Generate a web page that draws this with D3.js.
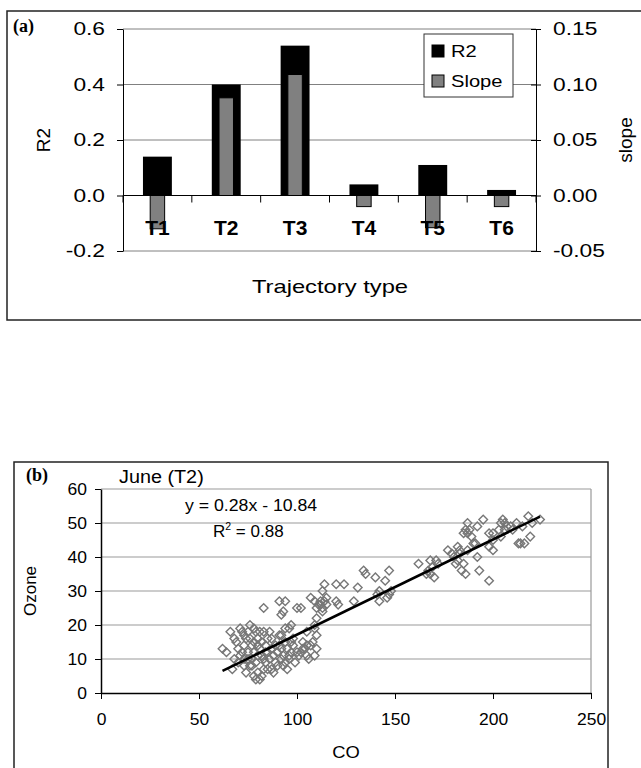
<!DOCTYPE html>
<html>
<head>
<meta charset="utf-8">
<script src="https://cdn.jsdelivr.net/npm/d3@7"></script>
<style>
  body { margin: 0; background: #fff; }
  svg { display: block; font-family: "Liberation Sans", Arial, sans-serif; }
</style>
</head>
<body>
<div id="chart"></div>
<script>
// panel (a) data
var categories = ["T1", "T2", "T3", "T4", "T5", "T6"];
var r2Values = [0.14, 0.40, 0.54, 0.04, 0.11, 0.02];
var slopeValues = [-0.030, 0.088, 0.109, -0.010, -0.029, -0.010];
var r2Ticks = [-0.2, 0, 0.2, 0.4, 0.6];
var slopeTicks = [-0.05, 0, 0.05, 0.10, 0.15];

// panel (b) data: CO vs Ozone, June (T2)
var coValues = [187,188,195,192,186,185,189,191,198,200,204,205,207,209,206,203,200,198,200,198,193,212,215,218,220,224,219,214,213,216,204,177,180,182,185,181,184,186,183,182,183,187,190,179,192,187,206,210,
  162,168,169,167,168,170,172,166,171,
  134,135,140,145,147,142,141,142,147,148,146,131,129,
  114,120,124,120,121,113,115,107,109,111,112,113,114,110,113,110,109,110,109,110,109,106,105,103,105,104,102,100,94,91,92,93,83,97,96,94,92,97,102,107,108,105,112,115,
  62,64,66,67,69,70,71,72,73,73,75,75,76,77,78,79,80,81,82,76,78,79,80,81,82,83,84,85,86,87,88,89,90,91,92,93,95,96,97,98,100,101,86,87,82,78,73,71,77,84,85,73,70,68,80,83,88,81,76,68,91,94,93,95,98,103,74,75,79,77,85,89,90,94,72,74,83,87,96,99,80,84,78,92];
var ozoneValues = [50,48,51,49,48,47,46,44,47,47,50,51,49,49,48,48,45,43,42,33,36,50,49,52,50,51,46,44,44,44,46,42,40,39,38,38,36,35,41,43,42,42,44,41,40,47,50,48,
  38,39,37,36,35,34,38,35,39,
  36,35,34,33,36,30,29,27,29,30,28,31,27,
  32,32,32,27,26,30,28,28,27,26,27,25,27,25,24,22,20,17,19,13,11,10,11,13,14,13,25,25,27,27,23,24,25,20,19,19,17,15,12,14,15,18,26,26,
  13,12,18,7,15,13,19,18,17,14,12,10,8,8,5,4,6,4,5,20,19,18,16,18,15,18,14,12,10,7,6,9,12,14,10,8,7,10,12,14,12,11,18,16,11,12,10,11,14,9,7,8,9,10,11,10,11,13,16,16,17,15,11,13,16,15,16,18,9,10,16,14,8,9,12,6,7,13,11,9,14,12,15,13];
var xTicksB = [0, 50, 100, 150, 200, 250];
var yTicksB = [0, 10, 20, 30, 40, 50, 60];
var trendSlope = 0.28;
var trendIntercept = -10.84;

var svg = d3.select('#chart').append('svg')
    .attr('width', 641)
    .attr('height', 768)

// the source figure is stretched sideways, so its text is too
function stretch(sel, k) {
    sel.each(function() {
        var w = this.getComputedTextLength()
        d3.select(this).attr('textLength', w * k).attr('lengthAdjust', 'spacingAndGlyphs')
    })
}

//////// panel (a)
var gA = svg.append('g')

gA.append('rect')
    .attr('x', 7).attr('y', 11)
    .attr('width', 650).attr('height', 309)
    .attr('fill', 'none').attr('stroke', '#222').attr('stroke-width', 1.5)

var xA = d3.scaleBand().domain(categories).range([123, 536])
var yR2 = d3.scaleLinear().domain([-0.2, 0.6]).range([251, 29])
var ySlope = d3.scaleLinear().domain([-0.05, 0.15]).range([251, 29])

gA.selectAll('.gridA')
    .data(r2Ticks.filter(function(d) { return d !== 0 }))
    .enter().append('line')
    .attr('x1', 123).attr('x2', 536)
    .attr('y1', function(d) { return yR2(d) })
    .attr('y2', function(d) { return yR2(d) })
    .attr('stroke', '#808080').attr('stroke-width', 1)

var bw = xA.bandwidth()

gA.selectAll('.r2bar')
    .data(r2Values)
    .enter().append('rect')
    .attr('x', function(d, i) { return xA(categories[i]) + bw / 2 - bw * 0.21 })
    .attr('width', bw * 0.42)
    .attr('y', function(d) { return yR2(Math.max(0, d)) })
    .attr('height', function(d) { return Math.abs(yR2(d) - yR2(0)) })
    .attr('fill', '#000')

gA.selectAll('.slopebar')
    .data(slopeValues)
    .enter().append('rect')
    .attr('x', function(d, i) { return xA(categories[i]) + bw / 2 - bw * 0.105 })
    .attr('width', bw * 0.21)
    .attr('y', function(d) { return ySlope(Math.max(0, d)) })
    .attr('height', function(d) { return Math.abs(ySlope(d) - ySlope(0)) })
    .attr('fill', '#808080').attr('stroke', '#000').attr('stroke-width', 1)

var leftAxis = gA.append('g')
    .attr('transform', 'translate(123,0)')
    .call(d3.axisLeft(yR2).tickValues(r2Ticks).tickSizeInner(6).tickSizeOuter(0).tickPadding(12)
        .tickFormat(function(d) { return d.toFixed(1) }))
leftAxis.selectAll('text').attr('font-size', 17.5).attr('fill', '#000')
leftAxis.selectAll('text').call(stretch, 1.3)

var rightAxis = gA.append('g')
    .attr('transform', 'translate(536,0)')
    .call(d3.axisRight(ySlope).tickValues(slopeTicks).tickSizeInner(5).tickSizeOuter(0).tickPadding(12)
        .tickFormat(function(d) { return d.toFixed(2) }))
rightAxis.selectAll('.tick line').attr('x1', -5)
rightAxis.selectAll('text').attr('font-size', 17.5).attr('fill', '#000')
rightAxis.selectAll('text').call(stretch, 1.3)
gA.selectAll('.domain').attr('stroke', '#000')

// category axis along zero
gA.append('line')
    .attr('x1', 123).attr('x2', 536)
    .attr('y1', yR2(0)).attr('y2', yR2(0))
    .attr('stroke', '#000')
gA.selectAll('.catTick')
    .data(categories.concat(['end']))
    .enter().append('line')
    .attr('x1', function(d, i) { return 123 + i * bw })
    .attr('x2', function(d, i) { return 123 + i * bw })
    .attr('y1', yR2(0)).attr('y2', yR2(0) + 7)
    .attr('stroke', '#000')

gA.selectAll('.catLabel')
    .data(categories)
    .enter().append('text')
    .attr('x', function(d) { return xA(d) + bw / 2 })
    .attr('y', 235)
    .attr('text-anchor', 'middle')
    .attr('font-size', 21).attr('font-weight', 'bold')
    .text(function(d) { return d })

gA.append('text')
    .attr('transform', 'translate(50,140) rotate(-90)')
    .attr('text-anchor', 'middle')
    .attr('font-size', 19)
    .text('R2')

gA.append('text')
    .attr('transform', 'translate(632,140) rotate(-90)')
    .attr('text-anchor', 'middle')
    .attr('font-size', 19)
    .text('slope')

gA.append('text')
    .attr('x', 330).attr('y', 293)
    .attr('text-anchor', 'middle')
    .attr('font-size', 19)
    .text('Trajectory type')
    .call(stretch, 1.25)

gA.append('text')
    .attr('x', 13).attr('y', 32)
    .attr('font-family', '"Liberation Serif", serif')
    .attr('font-weight', 'bold').attr('font-size', 18)
    .text('(a)')

// legend
var legend = gA.append('g')
legend.append('rect')
    .attr('x', 424).attr('y', 34).attr('width', 89).attr('height', 63)
    .attr('fill', '#fff').attr('stroke', '#333').attr('stroke-width', 1)
var legendItems = [{ name: 'R2', color: '#000' }, { name: 'Slope', color: '#808080' }]
legend.selectAll('.sw')
    .data(legendItems)
    .enter().append('rect')
    .attr('x', 432).attr('y', function(d, i) { return 45 + i * 30 })
    .attr('width', 12).attr('height', 12)
    .attr('fill', function(d) { return d.color })
    .attr('stroke', '#000')
legend.selectAll('.lt')
    .data(legendItems)
    .enter().append('text')
    .attr('x', 451).attr('y', function(d, i) { return 57 + i * 30 })
    .attr('font-size', 16.5)
    .text(function(d) { return d.name })
    .call(stretch, 1.22)

//////// panel (b)
var gB = svg.append('g')

gB.append('rect')
    .attr('x', 14).attr('y', 462)
    .attr('width', 594).attr('height', 330)
    .attr('fill', 'none').attr('stroke', '#222').attr('stroke-width', 1.5)

var xB = d3.scaleLinear().domain([0, 250]).range([101, 591])
var yB = d3.scaleLinear().domain([0, 60]).range([693, 489])

gB.selectAll('.gridB')
    .data(yTicksB.filter(function(d) { return d > 0 }))
    .enter().append('line')
    .attr('x1', 101).attr('x2', 591)
    .attr('y1', function(d) { return yB(d) })
    .attr('y2', function(d) { return yB(d) })
    .attr('stroke', '#999').attr('stroke-width', 1.2)
gB.append('line')
    .attr('x1', 591).attr('x2', 591)
    .attr('y1', yB(60)).attr('y2', yB(0))
    .attr('stroke', '#999').attr('stroke-width', 1.2)

var points = coValues.map(function(c, i) { return { co: c, o3: ozoneValues[i] } })
gB.selectAll('.pt')
    .data(points)
    .enter().append('path')
    .attr('d', function(d) {
        var cx = xB(d.co), cy = yB(d.o3), r = 4.3
        return 'M' + cx + ',' + (cy - r) + 'L' + (cx + r) + ',' + cy + 'L' + cx + ',' + (cy + r) + 'L' + (cx - r) + ',' + cy + 'Z'
    })
    .attr('fill', 'none').attr('stroke', '#777').attr('stroke-width', 1.4)

var coExtent = d3.extent(coValues)
gB.append('line')
    .attr('x1', xB(coExtent[0])).attr('y1', yB(trendSlope * coExtent[0] + trendIntercept))
    .attr('x2', xB(coExtent[1])).attr('y2', yB(trendSlope * coExtent[1] + trendIntercept))
    .attr('stroke', '#000').attr('stroke-width', 2.6)

var axisB = gB.append('g')
    .attr('transform', 'translate(0,693)')
    .call(d3.axisBottom(xB).tickValues(xTicksB).tickSizeInner(6).tickSizeOuter(0).tickPadding(14))
axisB.selectAll('text').attr('font-size', 16.5).attr('fill', '#000').call(stretch, 1.06)
var axisBy = gB.append('g')
    .attr('transform', 'translate(101,0)')
    .call(d3.axisLeft(yB).tickValues(yTicksB).tickSizeInner(6).tickSizeOuter(0).tickPadding(8))
axisBy.selectAll('text').attr('font-size', 16.5).attr('fill', '#000').call(stretch, 1.06)
gB.selectAll('.domain').attr('stroke', '#000').attr('stroke-width', 1.5)

gB.append('text')
    .attr('x', 346).attr('y', 758)
    .attr('text-anchor', 'middle')
    .attr('font-size', 17)
    .text('CO')
    .call(stretch, 1.08)

gB.append('text')
    .attr('transform', 'translate(36,591) rotate(-90)')
    .attr('text-anchor', 'middle')
    .attr('font-size', 17)
    .text('Ozone')

gB.append('text')
    .attr('x', 119).attr('y', 483)
    .attr('font-size', 18)
    .text('June (T2)')
    .call(stretch, 1.1)

gB.append('text')
    .attr('x', 26).attr('y', 481)
    .attr('font-family', '"Liberation Serif", serif')
    .attr('font-weight', 'bold').attr('font-size', 18)
    .text('(b)')

gB.append('text')
    .attr('x', 185).attr('y', 511)
    .attr('font-size', 17)
    .text('y = ' + trendSlope.toFixed(2) + 'x - ' + Math.abs(trendIntercept).toFixed(2))
    .call(stretch, 1.04)

var r2Text = gB.append('text')
    .attr('x', 213).attr('y', 537)
    .attr('font-size', 17)
r2Text.append('tspan').text('R')
r2Text.append('tspan').attr('font-size', 10.5).attr('dy', -7).text('2')
r2Text.append('tspan').attr('dy', 7).text(' = 0.88')
</script>
</body>
</html>
